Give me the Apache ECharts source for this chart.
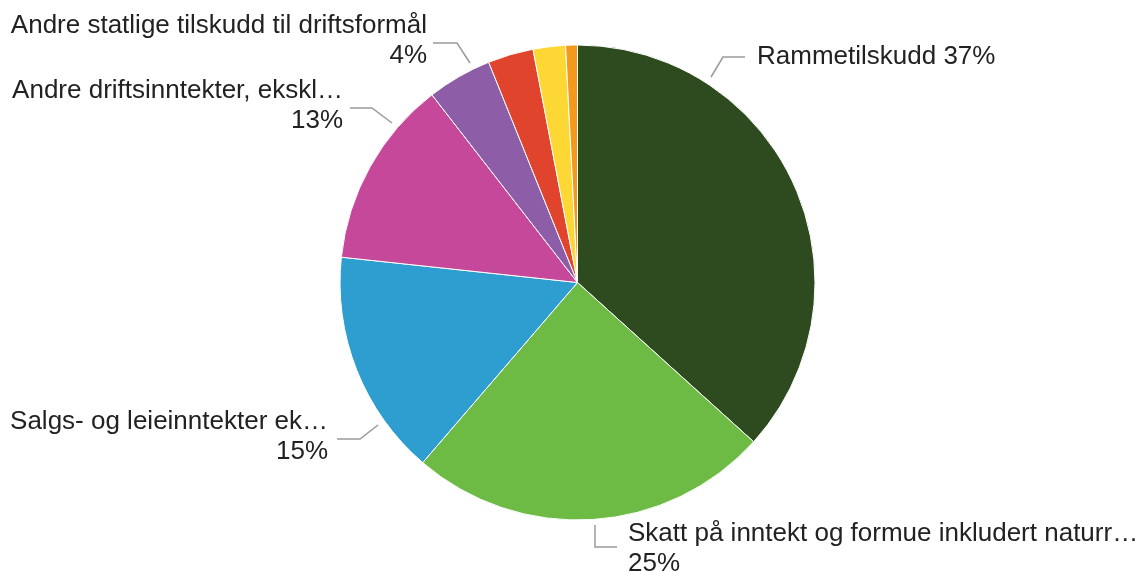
<!DOCTYPE html>
<html>
<head>
<meta charset="utf-8">
<script src="https://cdn.jsdelivr.net/npm/echarts@6/dist/echarts.min.js"></script>
<style>
html,body{margin:0;padding:0;background:#fff;}
#chart{width:1138px;height:571px;}
</style>
</head>
<body>
<div id="chart"></div>
<script>
var categories = [
  "Rammetilskudd",
  "Skatt på inntekt og formue inkludert naturr…",
  "Salgs- og leieinntekter ek…",
  "Andre driftsinntekter, ekskl…",
  "Andre statlige tilskudd til driftsformål",
  "Renteinntekter",
  "Eiendomsskatt",
  "Andre inntekter"
];
var values = [36.7, 24.6, 15.4, 12.8, 4.4, 3.1, 2.2, 0.8];
var colors = ["#2e4a1f", "#6dbb45", "#2e9dcf", "#c5489b", "#8e5da8", "#e0442c", "#fdd835", "#f39a1c"];
var labelled = [true, true, true, true, true, false, false, false];

var chart = echarts.init(document.getElementById('chart'), null, {renderer: 'canvas'});

var cx = 577.5, cy = 282.5, R = 237.5;

// label anchor placement (annotation layout)
var labelPlaces = [
  {x: 757, y: 57, align: 'left', pts: [[711, 77], [723, 57], [745, 57]]},
  {x: 628, y: 549, align: 'left', pts: [[595, 525], [595, 547], [617, 547]]},
  {x: 328, y: 437, align: 'right', pts: [[378, 425], [360, 439], [337, 439]]},
  {x: 343, y: 106, align: 'right', pts: [[392, 123], [372, 108], [350, 108]]},
  {x: 427, y: 41, align: 'right', pts: [[470, 63], [457, 43], [433, 43]]}
];

var data = categories.map(function (n, i) {
  return {
    name: n,
    value: values[i],
    itemStyle: {color: colors[i]},
    label: {show: labelled[i]},
    labelLine: {show: labelled[i]}
  };
});

chart.setOption({
  animation: false,
  backgroundColor: '#ffffff',
  series: [{
    type: 'pie',
    center: [cx, cy],
    radius: R,
    startAngle: 90,
    clockwise: true,
    percentPrecision: 0,
    avoidLabelOverlap: false,
    data: data,
    itemStyle: {borderColor: '#ffffff', borderWidth: 1},
    label: {
      show: true,
      position: 'outside',
      fontFamily: '"Liberation Sans", Arial, sans-serif',
      fontSize: 26,
      lineHeight: 30,
      color: '#222222',
      formatter: function (p) {
        if (p.dataIndex === 0) return p.name + ' ' + p.percent + '%';
        return p.name + '\n' + p.percent + '%';
      }
    },
    labelLine: {
      show: true,
      lineStyle: {color: '#9a9a9a', width: 1.5}
    },
    labelLayout: function (params) {
      var pl = labelPlaces[params.dataIndex];
      if (!pl) return {};
      return {
        x: pl.x,
        y: pl.y,
        align: pl.align,
        verticalAlign: 'middle',
        labelLinePoints: pl.pts
      };
    }
  }]
});
</script>
</body>
</html>
